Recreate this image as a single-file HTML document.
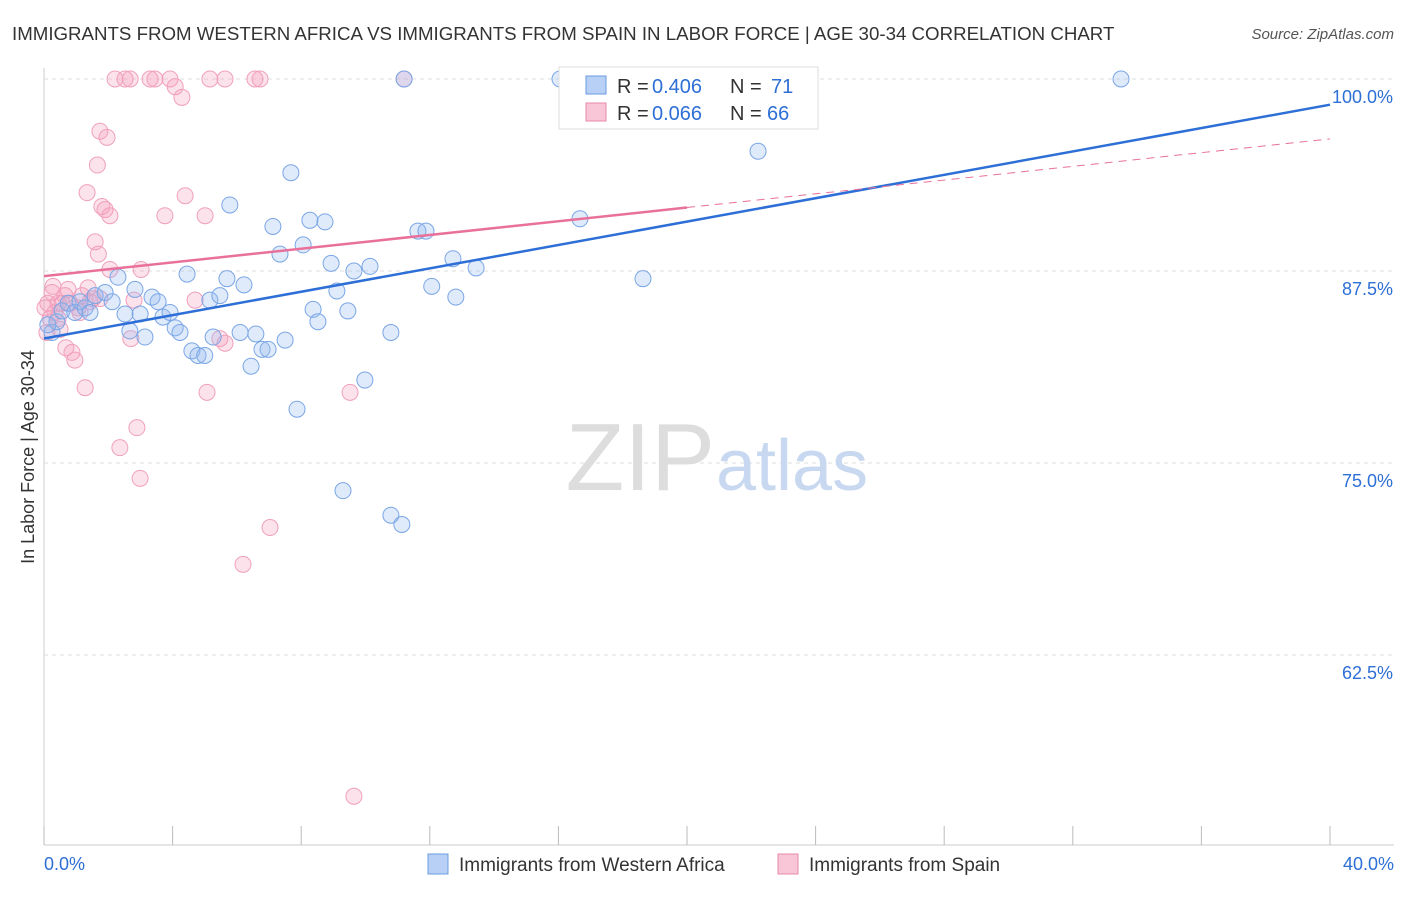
<!DOCTYPE html>
<html><head><meta charset="utf-8"><style>
body{margin:0;background:#fff;font-family:"Liberation Sans",sans-serif;}
svg text{font-family:"Liberation Sans",sans-serif;}
</style></head><body>
<svg id="chart" width="1406" height="892">
<text x="12" y="40" font-size="18.7" fill="#333">IMMIGRANTS FROM WESTERN AFRICA VS IMMIGRANTS FROM SPAIN IN LABOR FORCE | AGE 30-34 CORRELATION CHART</text>
<text x="1394" y="39" font-size="15" fill="#555" text-anchor="end" font-style="italic">Source: ZipAtlas.com</text>
<g id="grid"></g>
<text x="715" y="490" font-size="96" fill="#ddd" text-anchor="end" font-family="Liberation Serif">ZIP</text>
<text x="716" y="490" font-size="72" fill="#c8d8f0">atlas</text>
<text transform="translate(34,457) rotate(-90)" font-size="18" fill="#333" text-anchor="middle">In Labor Force | Age 30-34</text>
<g id="pts"></g>
<g id="lines"></g>
<g>
<rect x="559" y="67" width="259" height="62" fill="#fff" stroke="#ddd"/>
<rect x="586" y="76" width="20" height="18" fill="#b8d0f5" stroke="#6a9be0"/>
<text x="617" y="93" font-size="20" fill="#333">R =</text>
<text x="652" y="93" font-size="20" fill="#2d6fd6">0.406</text>
<text x="730" y="93" font-size="20" fill="#333">N =</text>
<text x="771" y="93" font-size="20" fill="#2d6fd6">71</text>
<rect x="586" y="103" width="20" height="18" fill="#f8c6d6" stroke="#e88aa8"/>
<text x="617" y="120" font-size="20" fill="#333">R =</text>
<text x="652" y="120" font-size="20" fill="#2d6fd6">0.066</text>
<text x="730" y="120" font-size="20" fill="#333">N =</text>
<text x="767" y="120" font-size="20" fill="#2d6fd6">66</text>
</g>
<g>
<rect x="428" y="854" width="20" height="20" fill="#b8d0f5" stroke="#6a9be0"/>
<text x="459" y="871" font-size="19" fill="#333">Immigrants from Western Africa</text>
<rect x="778" y="854" width="20" height="20" fill="#f8c6d6" stroke="#e88aa8"/>
<text x="809" y="871" font-size="19" fill="#333">Immigrants from Spain</text>
</g>
</svg>
<script>
const xTicks=[0,4,8,12,16,20,24,28,32,36,40];
const yTicks=[62.5,75,87.5,100];
const blueX=[0.25,0.4,0.56,0.75,0.96,1.12,1.28,1.43,1.59,1.9,2.12,2.3,2.52,2.67,2.83,2.99,3.14,3.36,3.55,3.7,3.92,4.08,4.23,4.45,4.6,4.79,5.0,5.16,5.26,5.47,5.69,5.78,6.1,6.22,6.44,6.59,6.78,6.97,7.12,7.34,7.5,7.68,7.87,8.06,8.27,8.37,8.52,8.74,8.93,9.11,9.3,9.45,9.64,9.98,10.14,10.79,10.79,11.13,11.2,11.63,11.88,12.06,12.72,12.81,13.44,16.05,16.67,18.63,22.21,33.5,0.12];
const blueY=[83.5,84.2,84.9,85.4,84.8,85.5,85.1,84.8,85.9,86.1,85.5,87.1,84.7,83.6,86.3,84.7,83.2,85.8,85.5,84.5,84.8,83.8,83.5,87.3,82.3,82.0,82.0,85.6,83.2,85.9,87.0,91.8,83.5,86.6,81.3,83.4,82.4,82.4,90.4,88.6,83.0,93.9,78.5,89.2,90.8,85.0,84.2,90.7,88.0,86.2,73.2,84.9,87.5,80.4,87.8,83.5,71.6,71.0,100,90.1,90.1,86.5,88.3,85.8,87.7,100,90.9,87.0,95.3,100,84.0];
const pinkX=[0.12,0.25,0.34,0.44,0.56,0.68,0.87,0.96,1.12,1.28,1.34,1.43,1.59,1.66,1.69,1.74,1.8,1.9,1.96,2.05,2.05,2.21,2.36,2.52,2.68,2.8,2.89,2.99,3.02,3.3,3.45,3.76,3.92,4.08,4.29,4.39,4.7,5.01,5.07,5.16,5.47,5.63,5.63,6.19,6.56,6.72,7.03,9.52,9.64,11.2,16.55,0.44,0.65,0.81,1.06,1.74,0.03,0.19,0.5,0.75,1.18,1.37,1.52,0.09,0.28,2.7];
const pinkY=[85.4,86.1,84.8,84.4,85.4,82.5,82.2,81.7,84.8,79.9,92.6,85.5,89.4,94.4,88.6,96.6,91.7,91.5,96.2,91.1,87.6,100,76.0,100,100,85.6,77.3,74.0,87.6,100,100,91.1,100,99.5,98.8,92.4,85.6,91.1,79.6,100,83.1,100,82.8,68.4,100,100,70.8,79.6,53.3,100,100,85.4,85.9,85.4,85.1,85.7,85.1,84.4,83.7,86.3,85.9,86.4,85.7,83.5,86.5,83.1];
const X0=44,X1=1330,Y0=79,PX=192/12.5;
const sx=v=>X0+(v/40)*(X1-X0);
const sy=v=>Y0+(100-v)*PX;
const NS="http://www.w3.org/2000/svg";
function mk(t,a,p){const e=document.createElementNS(NS,t);for(const k in a)e.setAttribute(k,a[k]);p.appendChild(e);return e;}
const grid=document.getElementById('grid');
const g0=mk('line',{x1:44,y1:68,x2:44,y2:845,stroke:'#ccc'},grid);


const g1=mk('line',{x1:44,y1:845,x2:1394,y2:845,stroke:'#ccc'},grid);


yTicks.forEach(v=>{
 const l=mk('line',{x1:44,x2:1394,y1:sy(v),y2:sy(v),stroke:'#ddd','stroke-dasharray':'4,4'},grid);
 
 
 const t=mk('text',{x:1393,y:sy(v)+24,'font-size':18,fill:'#2d6fd6','text-anchor':'end'},grid);
 t.textContent=v.toFixed(1)+'%';
 
 
});
xTicks.forEach(v=>{
 const l=mk('line',{x1:sx(v),x2:sx(v),y1:826,y2:845,stroke:'#bbb'},grid);
 
 
});
[[0,'0.0%','start',44],[40,'40.0%','end',1394]].forEach(([v,s,a,x])=>{
 const t=mk('text',{x:x,y:870,'font-size':18,fill:'#2d6fd6','text-anchor':a},grid);
 t.textContent=s;
 
 
});
const pts=document.getElementById('pts');
pinkX.forEach((x,i)=>{
 const c=mk('circle',{cx:sx(x),cy:sy(pinkY[i]),r:8,fill:'rgba(244,160,188,0.3)',stroke:'#f0a0bc','stroke-width':1},pts);
 
 
});
blueX.forEach((x,i)=>{
 const c=mk('circle',{cx:sx(x),cy:sy(blueY[i]),r:8,fill:'rgba(150,185,240,0.3)',stroke:'#7aa6e6','stroke-width':1},pts);
 
 
});
const lines=document.getElementById('lines');
function fit(xs,ys){const n=xs.length;const mx=xs.reduce((a,b)=>a+b)/n,my=ys.reduce((a,b)=>a+b)/n;let sxy=0,sxx=0;xs.forEach((x,i)=>{sxy+=(x-mx)*(ys[i]-my);sxx+=(x-mx)**2});const b=sxy/sxx;return [my-b*mx,b];}
const [ba,bb]=fit(blueX,blueY);
const bl=mk('line',{x1:sx(0),y1:sy(ba),x2:sx(40),y2:sy(ba+bb*40),stroke:'#2d6fd6','stroke-width':2.5},lines);


const [pa,pb]=fit(pinkX,pinkY);
const pl=mk('line',{x1:sx(0),y1:sy(pa),x2:sx(20),y2:sy(pa+pb*20),stroke:'#e8709a','stroke-width':2.5},lines);


const pd=mk('line',{x1:sx(20),y1:sy(pa+pb*20),x2:sx(40),y2:sy(pa+pb*40),stroke:'#e8709a','stroke-width':1,'stroke-dasharray':'8,6'},lines);


</script>
</body></html>
